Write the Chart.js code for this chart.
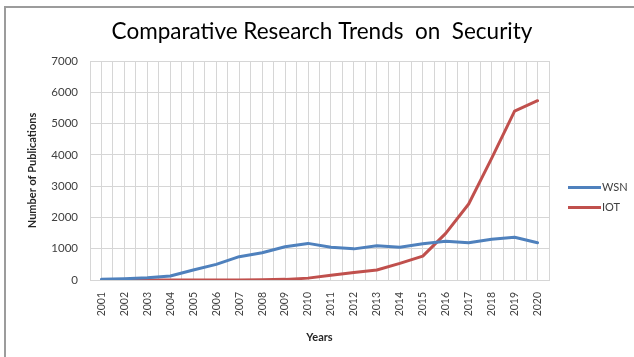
<!DOCTYPE html>
<html>
<head>
<meta charset="utf-8">
<script src="https://cdn.jsdelivr.net/npm/chart.js@4/dist/chart.umd.min.js"></script>
<style>
  html, body { margin: 0; padding: 0; background: #ffffff; }
  #wrap { position: relative; width: 634px; height: 357px; overflow: hidden; }
  #frame { position: absolute; left: 4px; top: 6px; width: 700px; height: 400px;
           border-left: 2px solid #9c9c9c; border-top: 2px solid #9c9c9c; }
  canvas { position: absolute; left: 0; top: 0; }
</style>
</head>
<body>
<div id="wrap">
  <div id="frame"></div>
  <canvas id="chart" width="634" height="357"></canvas>
</div>
<script>
// Publications per year on security topics
const years = [2001, 2002, 2003, 2004, 2005, 2006, 2007, 2008, 2009, 2010,
               2011, 2012, 2013, 2014, 2015, 2016, 2017, 2018, 2019, 2020];
const wsn = [20, 40, 70, 130, 320, 500, 745, 870, 1065, 1170,
             1045, 995, 1095, 1045, 1160, 1235, 1190, 1300, 1365, 1190];
const iot = [0, 0, 0, 0, 0, 0, 0, 5, 20, 60,
             150, 240, 320, 530, 765, 1490, 2430, 3890, 5400, 5730];
const yTicks = [0, 1000, 2000, 3000, 4000, 5000, 6000, 7000];
const chartTitle = 'Comparative Research Trends  on  Security';

const FONT = 'Lato, "Open Sans", "Liberation Sans", sans-serif';
const GRID = '#d6d6d6';

const toPoints = (vals) => years.map((yr, i) => ({ x: yr, y: vals[i] }));

// Title centred on the whole canvas, and the legend to the right of the plot
const decorations = {
  id: 'decorations',
  afterDraw(chart) {
    const ctx = chart.ctx;
    const area = chart.chartArea;
    ctx.save();

    ctx.font = '22.5px ' + FONT;
    ctx.fillStyle = '#000000';
    ctx.textAlign = 'center';
    ctx.textBaseline = 'middle';
    ctx.fillText(chartTitle, chart.width / 2 + 5, 32);

    const x0 = area.right + 19;
    const yMid = (area.top + area.bottom) / 2 + 27;
    ctx.font = '11px ' + FONT;
    ctx.textAlign = 'left';
    chart.data.datasets.forEach((ds, i) => {
      const y = yMid - 10 + i * 20;
      ctx.strokeStyle = ds.borderColor;
      ctx.lineWidth = 3;
      ctx.beginPath();
      ctx.moveTo(x0, y);
      ctx.lineTo(x0 + 33, y);
      ctx.stroke();
      ctx.fillStyle = '#404040';
      ctx.fillText(ds.label, x0 + 34, y);
    });
    ctx.restore();
  }
};

new Chart(document.getElementById('chart'), {
  type: 'line',
  data: {
    datasets: [
      { label: 'WSN', data: toPoints(wsn), borderColor: '#4f81bd', backgroundColor: '#4f81bd',
        borderWidth: 3, pointRadius: 0, tension: 0, borderCapStyle: 'round', borderJoinStyle: 'round' },
      { label: 'IOT', data: toPoints(iot), borderColor: '#c0504d', backgroundColor: '#c0504d',
        borderWidth: 3, pointRadius: 0, tension: 0, borderCapStyle: 'round', borderJoinStyle: 'round' }
    ]
  },
  options: {
    responsive: false,
    animation: false,
    devicePixelRatio: 1,
    layout: { padding: { left: 22, right: 85, top: 61, bottom: 8 } },
    plugins: {
      legend: { display: false },
      tooltip: { enabled: false },
      title: { display: false }
    },
    scales: {
      x: {
        type: 'linear',
        min: years[0] - 0.5,
        max: years[years.length - 1] + 0.5,
        afterFit(scale) { scale.height = 69; },
        ticks: {
          stepSize: 0.5,
          maxTicksLimit: 100,
          autoSkip: false,
          minRotation: 90,
          maxRotation: 90,
          padding: 12,
          color: '#404040',
          font: { family: FONT, size: 10.5 },
          callback: (v) => Number.isInteger(v) && years.includes(v) ? String(v) : ''
        },
        grid: { color: GRID, lineWidth: 1, drawTicks: false },
        border: { color: GRID, width: 1 },
        title: {
          display: true, text: 'Years', color: '#262626',
          font: { family: FONT, size: 11, weight: 'bold' },
          padding: { top: 0, bottom: 5 }
        }
      },
      y: {
        min: yTicks[0],
        max: yTicks[yTicks.length - 1],
        afterFit(scale) { scale.width = 68; },
        afterBuildTicks(scale) { scale.ticks = yTicks.map(v => ({ value: v })); },
        ticks: {
          padding: 12,
          color: '#404040',
          font: { family: FONT, size: 11.5 },
          callback: (v) => String(v)
        },
        grid: { color: GRID, lineWidth: 1, drawTicks: false },
        border: { color: GRID, width: 1 },
        title: {
          display: true, text: 'Number of Publications', color: '#262626',
          font: { family: FONT, size: 11, weight: 'bold' },
          padding: { top: 4, bottom: 0 }
        }
      }
    }
  },
  plugins: [decorations]
});
</script>
</body>
</html>
